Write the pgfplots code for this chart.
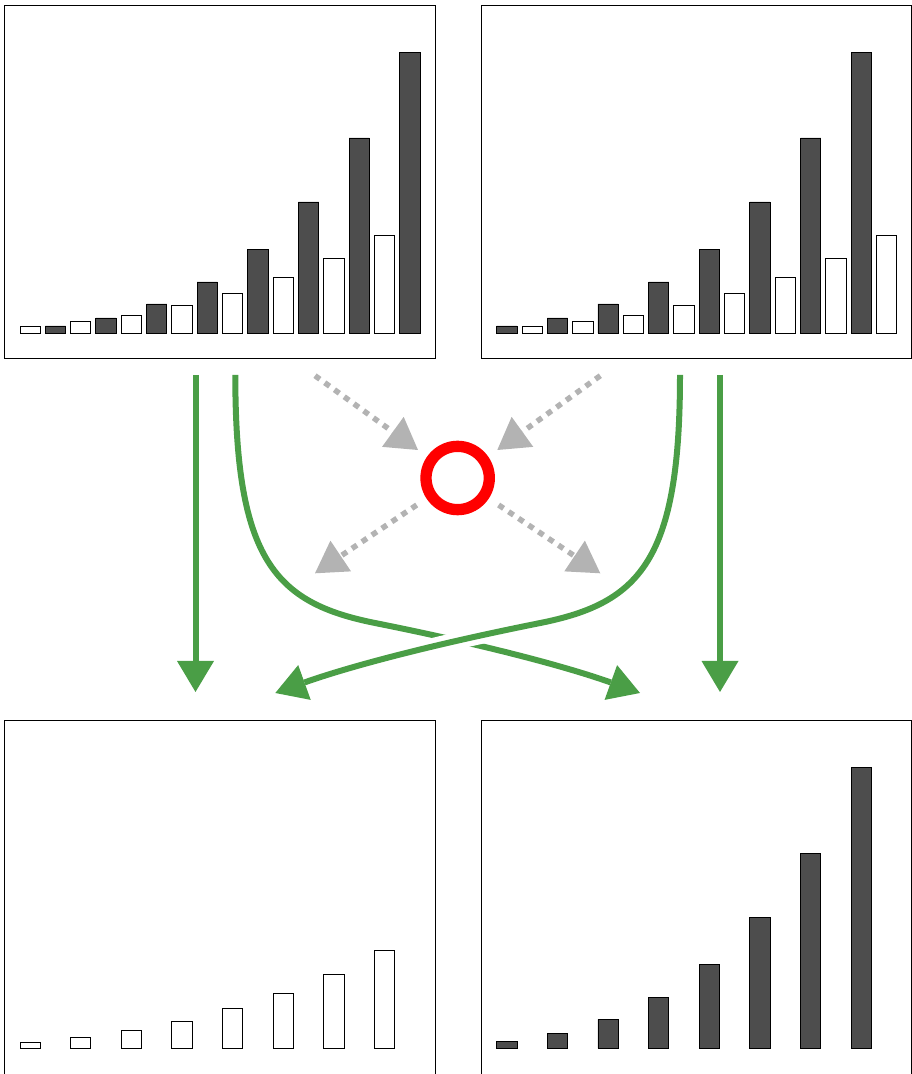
\documentclass[border=0pt]{standalone}
\usepackage{pgfplots}
\usepackage{pgfplotstable}
\pgfplotsset{compat=1.18}
\usetikzlibrary{arrows.meta}
\definecolor{grn}{RGB}{74,158,70}
\definecolor{gry}{RGB}{179,179,179}
\definecolor{barDark}{RGB}{77,77,77}
\pgfplotsset{
  panel/.style={scale only axis, width=430.5pt, height=353.7pt,
    xmin=-1.01, xmax=15.99, ymin=-25.7, ymax=328,
    xtick=\empty, ytick=\empty,
    axis line style={line width=0.9pt, black},
    ybar, bar width=20.3pt, anchor=north west},
  dk/.style={fill=barDark, draw=black, line width=0.8pt, bar shift=0pt},
  wt/.style={fill=white, draw=black, line width=0.8pt, bar shift=0pt}
}
% white series at even slots
\pgfplotstableread{
x y
0 6.3
2 11.3
4 17.8
6 27.3
8 39.7
10 55.3
12 74.5
14 97.7
}\whiteEven
% dark series at odd slots
\pgfplotstableread{
x y
1 7
3 15
5 29
7 51
9 83.7
11 131
13 195
15 280.7
}\darkOdd
% dark series at even slots
\pgfplotstableread{
x y
0 7
2 15
4 29
6 51
8 83.7
10 131
12 195
14 280.7
}\darkEven
% white series at odd slots
\pgfplotstableread{
x y
1 6.3
3 11.3
5 17.8
7 27.3
9 39.7
11 55.3
13 74.5
15 97.7
}\whiteOdd
\begin{document}
\begin{tikzpicture}
\useasboundingbox (0pt,0pt) rectangle (912pt,1074pt);
% top left
\begin{axis}[panel, at={(4.5pt,1069pt)}]
\addplot[wt] table[x=x,y=y] {\whiteEven};
\addplot[dk] table[x=x,y=y] {\darkOdd};
\end{axis}
% top right
\begin{axis}[panel, at={(481.2pt,1069pt)}]
\addplot[dk] table[x=x,y=y] {\darkEven};
\addplot[wt] table[x=x,y=y] {\whiteOdd};
\end{axis}
% bottom left
\begin{axis}[panel, at={(4.5pt,353.5pt)}]
\addplot[wt] table[x=x,y=y] {\whiteEven};
\end{axis}
% bottom right
\begin{axis}[panel, at={(481.2pt,353.5pt)}]
\addplot[dk] table[x=x,y=y] {\darkEven};
\end{axis}
% annotations in image pixel coordinates
\begin{scope}[x=1pt, y=-1pt, shift={(0pt,1074pt)}]
  \tikzset{gtip/.style={-{Triangle[length=31pt,width=37pt,line width=0pt]}}}
  % straight green arrows
  \draw[grn, line width=6pt, gtip] (195.5,375) -- (195.5,692);
  \draw[grn, line width=6pt, gtip] (720,375) -- (720,692);
  % curved arrow 1 (left to right, underneath)
  \draw[grn, line width=6pt, gtip] (235.3,375) .. controls (235.3,560) and (275,603) .. (375,623)
      .. controls (505,649) and (580,671.4) .. (640,693);
  % white gap
  \begin{scope}
    \clip (410,612) rectangle (505,668);
    \draw[white, line width=17pt] (680,375) .. controls (680,560) and (640.3,603) .. (540.3,623)
      .. controls (410.3,649) and (335.3,671.4) .. (275.3,693);
  \end{scope}
  % curved arrow 2 (right to left, on top)
  \draw[grn, line width=6pt, gtip] (680,375) .. controls (680,560) and (640.3,603) .. (540.3,623)
      .. controls (410.3,649) and (335.3,671.4) .. (275.3,693);
  % gray dotted arrows
  \tikzset{garr/.style={gry, line width=5.5pt, dash pattern=on 6pt off 6pt, gtip}}
  \draw[garr] (315,375.7) -- (418,450);
  \draw[garr] (600.3,375.7) -- (497.3,450);
  \draw[garr] (416.7,505) -- (315,573.3);
  \draw[garr] (498.6,505) -- (600.3,573.3);
  % red ring
  \draw[red, line width=11.3pt] (457.65,478) circle[radius=31.65];
\end{scope}
\end{tikzpicture}
\end{document}
